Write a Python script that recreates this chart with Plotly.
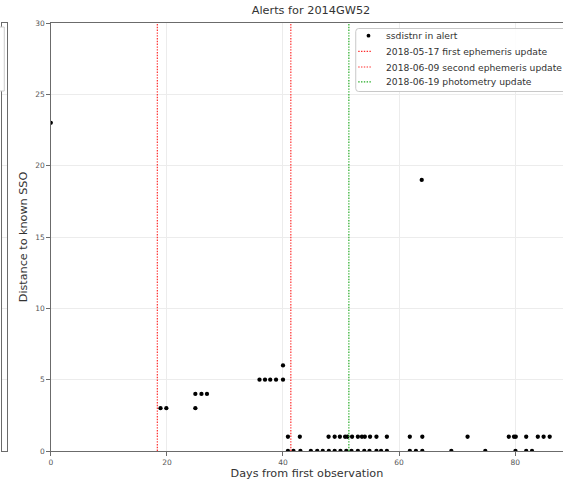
import plotly.graph_objects as go

# Alert observations: days since first detection vs. distance to the nearest known SSO
days = [
    0.0,
    18.9, 19.9,
    24.9, 24.9, 25.95, 26.9,
    35.95, 36.9, 37.8, 38.8, 40.0, 40.0,
    40.85, 42.9, 47.85, 48.9, 49.8, 50.7, 51.1, 51.9, 52.9, 53.6, 54.1, 55.0,
    56.1, 57.9, 61.85, 64.0, 71.8, 78.9, 79.8, 80.1, 81.9, 83.9, 84.9, 85.95,
    63.9,
    40.85, 41.8, 43.0, 44.8, 45.9, 46.85, 47.9, 48.9, 49.9, 50.9, 51.8, 52.9,
    54.0, 54.9, 56.1, 56.9, 57.9, 61.85, 62.9, 64.0, 69.0, 74.85, 80.05, 81.9, 82.9,
]
ssdistnr = [
    23,
    3, 3,
    3, 4, 4, 4,
    5, 5, 5, 5, 5, 6,
    1, 1, 1, 1, 1, 1, 1, 1, 1, 1, 1, 1,
    1, 1, 1, 1, 1, 1, 1, 1, 1, 1, 1, 1,
    19,
    0, 0, 0, 0, 0, 0, 0, 0, 0, 0, 0, 0,
    0, 0, 0, 0, 0, 0, 0, 0, 0, 0, 0, 0, 0,
]
scatter_label = "ssdistnr in alert"

# Orbit / photometry updates (days from first observation)
update_days = [18.35, 41.35, 51.35]
update_labels = [
    "2018-05-17 first ephemeris update",
    "2018-06-09 second ephemeris update",
    "2018-06-19 photometry update",
]
update_colors = ["#ff2a2a", "#ff2a2a", "#22aa22"]

y_range = [0, 30]
x_range = [0, 88.24]

W, H = 563, 482
MT, MB = 23, 31
PLOT_H = H - MT - MB

FONT = "DejaVu Sans"
AXIS_C = "#6b6b6b"
GRID_C = "#ececec"
TEXT_C = "#333333"
DOTTED = "1.4px,1.4px"


def px(p):
    """pixel column -> paper x (no side margins)"""
    return p / W


def py(p):
    """pixel row -> paper y"""
    return (H - MB - p) / PLOT_H


fig = go.Figure()

fig.add_trace(go.Scatter(
    x=days, y=ssdistnr, mode="markers", name=scatter_label,
    marker=dict(color="black", size=4.3), showlegend=False,
    xaxis="x", yaxis="y",
))

for d, lab, col in zip(update_days, update_labels, update_colors):
    fig.add_trace(go.Scatter(
        x=[d, d], y=y_range, mode="lines", name=lab, showlegend=False,
        line=dict(color=col, width=1.2, dash=DOTTED),
        xaxis="x", yaxis="y",
    ))

# neighbouring panel on the left (only its right edge is in view)
fig.add_trace(go.Scatter(x=[0], y=[-10], mode="markers", showlegend=False,
                         marker=dict(opacity=0), xaxis="x2", yaxis="y2",
                         hoverinfo="skip"))

shapes = [
    # legend frame of the left panel
    dict(type="rect", xref="paper", yref="paper",
         x0=-0.02, x1=px(2.3), y0=py(91), y1=py(27),
         line=dict(color="#cccccc", width=1), fillcolor="white", layer="above"),
]
annotations = []

# legend for this panel
LX0, LX1, LY0, LY1, R = 355, 580, 28.5, 91.5, 3
frame = (f"M {px(LX0 + R)},{py(LY0)} L {px(LX1)},{py(LY0)} L {px(LX1)},{py(LY1)} "
         f"L {px(LX0 + R)},{py(LY1)} Q {px(LX0)},{py(LY1)} {px(LX0)},{py(LY1 - R)} "
         f"L {px(LX0)},{py(LY0 + R)} Q {px(LX0)},{py(LY0)} {px(LX0 + R)},{py(LY0)} Z")
shapes.append(dict(type="path", path=frame, xref="paper", yref="paper",
                   line=dict(color="#c8c8c8", width=1),
                   fillcolor="rgba(255,255,255,0.9)", layer="above"))

rows = [35.7, 51.3, 67.0, 81.8]
shapes.append(dict(type="circle", xref="paper", yref="paper",
                   x0=px(367.8 - 1.9), x1=px(367.8 + 1.9),
                   y0=py(rows[0] + 1.9), y1=py(rows[0] - 1.9),
                   fillcolor="black", line=dict(width=0), layer="above"))
for r, col in zip(rows[1:], update_colors):
    shapes.append(dict(type="line", xref="paper", yref="paper",
                       x0=px(357.5), x1=px(371), y0=py(r), y1=py(r),
                       line=dict(color=col, width=1.2, dash=DOTTED), layer="above"))
for r, lab in zip(rows, [scatter_label] + update_labels):
    annotations.append(dict(text=lab, xref="paper", yref="paper",
                            x=px(383), y=py(r), xanchor="left", yanchor="middle",
                            showarrow=False, font=dict(size=9.2, color=TEXT_C)))

fig.update_layout(
    width=W, height=H,
    margin=dict(l=0, r=0, t=MT, b=MB, pad=0),
    paper_bgcolor="white", plot_bgcolor="white",
    font=dict(family=FONT, color=TEXT_C),
    showlegend=False,
    title=dict(text="Alerts for 2014GW52", font=dict(size=11.3, color=TEXT_C),
               x=311 / W, xref="container", xanchor="center",
               y=1 - 10.5 / H, yref="container", yanchor="middle"),
    xaxis=dict(
        domain=[49 / W, 1], range=x_range, tickvals=[0, 20, 40, 60, 80],
        showgrid=True, gridcolor=GRID_C, gridwidth=1, zeroline=False,
        showline=True, linecolor=AXIS_C, linewidth=1, mirror=True,
        ticks="outside", ticklen=3.5, tickcolor=AXIS_C, tickwidth=1,
        tickfont=dict(size=7.5, color="#555555"),
        title=dict(text="Days from first observation",
                   font=dict(size=11.2, color=TEXT_C), standoff=3),
    ),
    yaxis=dict(
        range=y_range, dtick=5, anchor="x",
        showgrid=True, gridcolor=GRID_C, gridwidth=1, zeroline=False,
        showline=True, linecolor=AXIS_C, linewidth=1,
        ticks="outside", ticklen=3.5, tickcolor=AXIS_C, tickwidth=1,
        tickfont=dict(size=7.5, color="#555555"),
        title=dict(text="Distance to known SSO",
                   font=dict(size=11.2, color=TEXT_C), standoff=5),
    ),
    xaxis2=dict(
        domain=[0, 5 / W], range=[0, 1], anchor="y2",
        showgrid=False, zeroline=False, showticklabels=False, ticks="",
        showline=True, linecolor=AXIS_C, linewidth=1, mirror=True,
    ),
    yaxis2=dict(
        range=y_range, dtick=5, anchor="x2", side="right",
        showgrid=True, gridcolor=GRID_C, gridwidth=1, zeroline=False,
        showticklabels=False, ticks="",
        showline=True, linecolor=AXIS_C, linewidth=1, mirror=True,
    ),
    shapes=shapes,
    annotations=annotations,
)

fig.write_html("out.html")
